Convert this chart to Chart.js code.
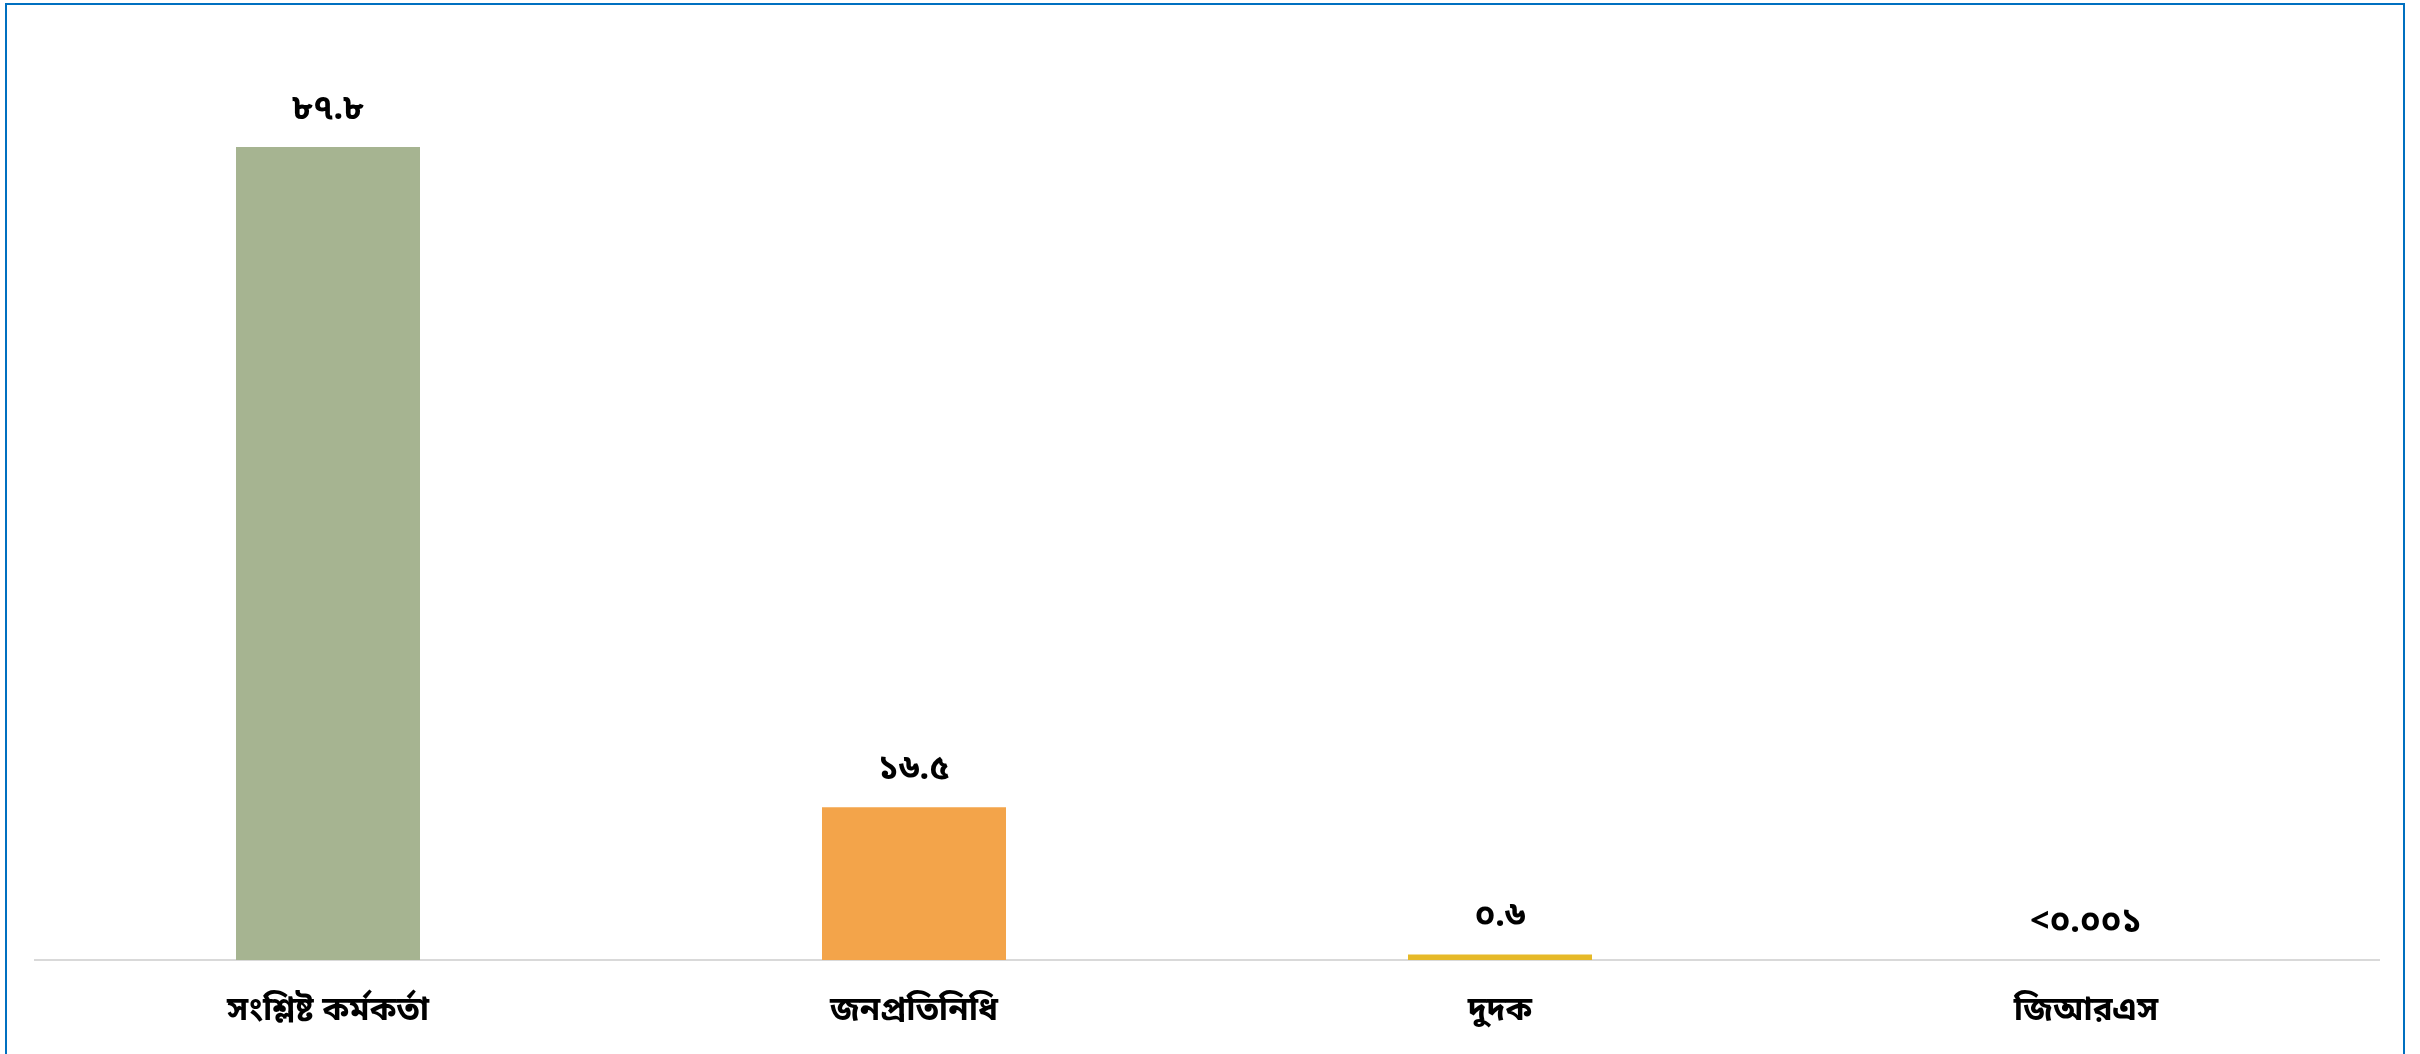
<!DOCTYPE html>
<html>
<head>
<meta charset="utf-8">
<title>bar chart</title>
<script src="https://cdn.jsdelivr.net/npm/chart.js@4/dist/chart.umd.min.js"></script>
<style>
    html, body { margin: 0; padding: 0; background: #fff; overflow: hidden; }
    #frame {
        position: absolute;
        left: 5px; top: 3px;
        width: 2400px; height: 1052px;
        border: 2px solid #0070c0;
        border-bottom: 1px solid #dde6ef;
        box-sizing: border-box;
    }
    #chart { position: absolute; left: 0; top: 0; }
</style>
</head>
<body>
<div id="frame"></div>
<canvas id="chart" width="2420" height="1054"></canvas>
<script>
const categories = ['সংশ্লিষ্ট কর্মকর্তা', 'জনপ্রতিনিধি', 'দুদক', 'জিআরএস']
const values = [87.8, 16.5, 0.6, 0.001]
const valueLabels = ['৮৭.৮', '১৬.৫', '০.৬', '<০.০০১']
const barColors = ['#a6b491', '#f3a44a', '#e6b928', '#5b9bd5']

const bnFont = '"Noto Sans Bengali", "Lohit Bengali", "Vrinda", "Noto Sans", sans-serif'

// value labels above bars (no datalabels plugin offline)
const barLabels = {
    id: 'barLabels',
    afterDatasetsDraw: chart => {
        const ctx = chart.ctx
        const meta = chart.getDatasetMeta(0)
        ctx.save()
        ctx.font = 'bold 34px ' + bnFont
        ctx.fillStyle = '#000'
        ctx.textAlign = 'center'
        ctx.textBaseline = 'bottom'
        meta.data.forEach((bar, i) => {
            ctx.fillText(valueLabels[i], bar.x, bar.y - 18)
        })
        ctx.restore()
    }
}

new Chart(document.getElementById('chart'), {
    type: 'bar',
    data: {
        labels: categories,
        datasets: [{
            data: values,
            backgroundColor: barColors,
            borderWidth: 0,
            barPercentage: 0.5,
            categoryPercentage: 0.628
        }]
    },
    options: {
        responsive: false,
        animation: false,
        layout: {
            padding: { top: 34, left: 35, right: 41, bottom: 0 }
        },
        plugins: {
            legend: { display: false },
            tooltip: { enabled: false }
        },
        scales: {
            x: {
                grid: { display: false },
                border: { display: true, color: '#d9d9d9', width: 2 },
                ticks: {
                    color: '#000',
                    padding: 26,
                    font: { family: bnFont, size: 33, weight: 'bold' }
                },
                afterFit: s => { s.height = 94 }
            },
            y: {
                display: false,
                min: 0,
                max: 100
            }
        }
    },
    plugins: [barLabels]
})
</script>
</body>
</html>
